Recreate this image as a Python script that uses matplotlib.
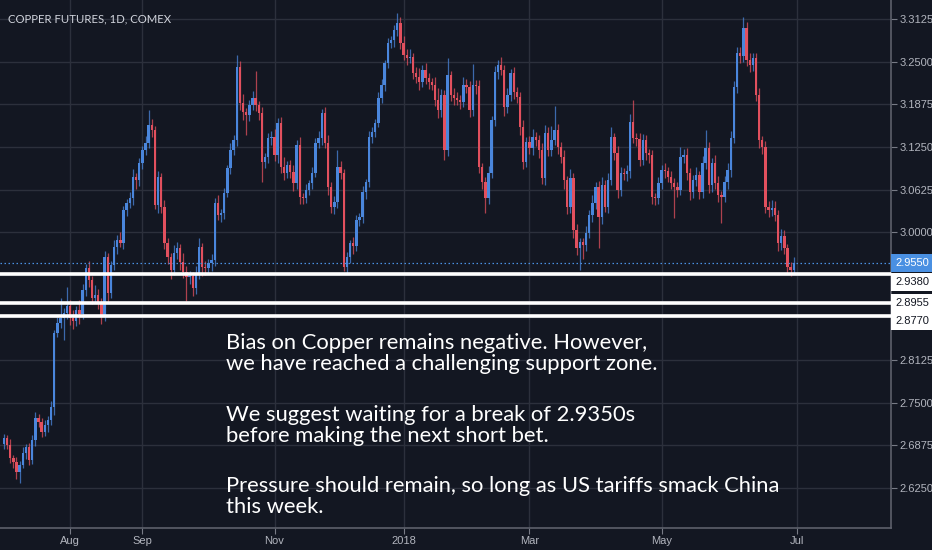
import numpy as np
import pandas as pd
import matplotlib
matplotlib.use('Agg')
import matplotlib.pyplot as plt
from matplotlib.patches import Rectangle
from matplotlib.transforms import IdentityTransform
from matplotlib.ticker import FixedLocator, FuncFormatter

# trading days shown (COMEX, daily bars)
holidays = ['2017-07-04', '2017-09-04', '2017-11-23', '2017-12-25', '2018-01-01',
            '2018-01-15', '2018-02-19', '2018-03-30', '2018-05-28']
dates = pd.bdate_range('2017-06-30', '2018-06-29', freq='C', holidays=holidays)

first_open = 2.690
closes = [
    # Jul 2017
    2.698, 2.688, 2.669, 2.663, 2.648, 2.659, 2.676, 2.685, 2.666, 2.695,
    2.727, 2.722, 2.707, 2.717, 2.724, 2.744, 2.852, 2.867, 2.874, 2.882, 2.892,
    # Aug 2017
    2.874, 2.870, 2.886, 2.880, 2.915, 2.947, 2.930, 2.903, 2.908, 2.898,
    2.878, 2.963, 2.911, 2.952, 2.978, 2.988, 2.984, 3.032, 3.043, 3.050,
    3.081, 3.076, 3.101,
    # Sep 2017
    3.120, 3.131, 3.157, 3.150, 3.040, 3.081, 3.037, 2.984, 2.963, 2.944,
    2.969, 2.977, 2.956, 2.941, 2.934, 2.936, 2.918, 2.940, 2.978, 2.949,
    # Oct 2017
    2.947, 2.955, 2.959, 3.043, 3.025, 3.028, 3.057, 3.094, 3.120, 3.135,
    3.242, 3.189, 3.176, 3.172, 3.186, 3.197, 3.186, 3.175, 3.103, 3.110,
    3.138, 3.139,
    # Nov 2017
    3.113, 3.160, 3.095, 3.087, 3.098, 3.088, 3.072, 3.128, 3.051, 3.050,
    3.062, 3.072, 3.087, 3.131, 3.138, 3.175, 3.131, 3.066, 3.037, 3.044,
    3.095,
    # Dec 2017
    3.087, 2.949, 2.963, 2.984, 2.980, 3.018, 3.022, 3.059, 3.073, 3.139,
    3.147, 3.160, 3.197, 3.216, 3.248, 3.277, 3.282, 3.296, 3.307, 3.277,
    # Jan 2018
    3.260, 3.255, 3.257, 3.233, 3.227, 3.220, 3.238, 3.226, 3.220, 3.216,
    3.194, 3.179, 3.201, 3.120, 3.230, 3.201, 3.197, 3.194, 3.191, 3.216,
    3.213,
    # Feb 2018
    3.179, 3.216, 3.214, 3.095, 3.073, 3.050, 3.087, 3.164, 3.235, 3.245,
    3.238, 3.183, 3.201, 3.233, 3.205, 3.198, 3.154, 3.103, 3.132,
    # Mar 2018
    3.123, 3.140, 3.135, 3.120, 3.079, 3.145, 3.120, 3.135, 3.150, 3.125,
    3.110, 3.076, 3.037, 3.079, 3.003, 2.977, 2.985, 2.981, 2.999, 3.025,
    3.043,
    # Apr 2018
    3.066, 3.022, 3.069, 3.037, 3.076, 3.139, 3.116, 3.062, 3.087, 3.085,
    3.089, 3.161, 3.138, 3.136, 3.106, 3.135, 3.116, 3.113, 3.051, 3.050,
    3.072,
    # May 2018
    3.091, 3.090, 3.081, 3.072, 3.066, 3.062, 3.110, 3.113, 3.087, 3.059,
    3.076, 3.084, 3.059, 3.101, 3.123, 3.069, 3.101, 3.072, 3.054, 3.052,
    3.073, 3.091,
    # Jun 2018
    3.138, 3.213, 3.263, 3.258, 3.299, 3.252, 3.245, 3.255, 3.201, 3.135,
    3.125, 3.037, 3.032, 3.035, 3.025, 2.984, 2.995, 2.977, 2.949, 2.944,
    2.955,
]

# wick lengths above / below the body, in thousandths
wick_hi = [
    6, 5, 8, 4, 7, 6, 9, 5, 6, 8, 10, 6, 5, 7, 6, 8, 5, 9, 30, 7, 28,
    8, 12, 6, 15, 9, 7, 10, 6, 14, 8, 5, 9, 7, 6, 10, 8, 12, 7, 5, 9, 11, 6, 8,
    7, 10, 22, 9, 6, 8, 5, 10, 7, 6, 12, 8, 6, 14, 9, 7, 5, 11, 13, 6,
    8, 6, 9, 7, 12, 6, 8, 5, 10, 7, 18, 9, 14, 6, 8, 10, 40, 7, 9, 6, 8, 10,
    12, 7, 9, 15, 6, 8, 10, 7, 11, 6, 8, 5, 9, 7, 10, 6, 8, 12, 7, 9, 25,
    10, 6, 8, 5, 9, 7, 6, 8, 5, 10, 7, 6, 8, 9, 5, 7, 6, 8, 15, 9,
    10, 8, 12, 6, 9, 14, 7, 10, 8, 6, 12, 18, 9, 7, 25, 6, 10, 8, 7, 11, 9,
    8, 30, 7, 9, 6, 8, 10, 7, 9, 8, 12, 7, 10, 6, 9, 8, 7, 10, 8,
    9, 11, 7, 8, 10, 12, 9, 20, 35, 8, 7, 10, 6, 14, 8, 9, 7, 6, 10, 8, 12,
    7, 9, 12, 8, 10, 15, 6, 10, 8, 7, 9, 12, 33, 8, 10, 9, 7, 6, 8, 7, 9,
    8, 10, 6, 9, 7, 8, 15, 9, 10, 7, 8, 12, 6, 10, 27, 9, 8, 12, 10, 7, 9, 11,
    10, 8, 9, 9, 16, 9, 10, 7, 8, 10, 6, 9, 8, 12, 11, 7, 9, 8, 6, 7, 8,
]
wick_lo = [
    8, 6, 7, 9, 10, 16, 5, 8, 7, 6, 9, 7, 8, 6, 10, 7, 12, 6, 8, 32, 9,
    10, 12, 8, 14, 7, 9, 11, 8, 6, 10, 12, 9, 15, 8, 7, 10, 6, 9, 8, 7, 10, 12, 8,
    9, 7, 8, 10, 6, 12, 9, 8, 10, 12, 7, 9, 11, 8, 35, 10, 12, 8, 9, 14,
    10, 8, 12, 9, 7, 10, 8, 6, 9, 7, 8, 10, 12, 30, 9, 7, 8, 10, 30, 9, 8, 10,
    9, 12, 8, 10, 7, 9, 11, 8, 10, 9, 7, 8, 9, 6, 8, 10, 7, 12, 9, 10, 8,
    9, 6, 10, 8, 12, 7, 9, 8, 10, 7, 9, 8, 6, 7, 9, 8, 7, 10, 8, 9,
    8, 10, 7, 9, 8, 11, 7, 9, 10, 8, 9, 12, 10, 14, 8, 9, 11, 8, 10, 7, 9,
    10, 8, 12, 9, 10, 22, 8, 7, 9, 10, 8, 12, 9, 8, 10, 9, 12, 10, 8,
    9, 10, 8, 12, 9, 10, 8, 9, 7, 10, 9, 12, 10, 9, 12, 10, 33, 20, 9, 8, 10,
    9, 45, 10, 8, 9, 7, 10, 12, 9, 8, 10, 9, 8, 10, 9, 8, 10, 12, 9, 10, 8,
    9, 10, 8, 9, 45, 10, 8, 9, 10, 12, 9, 8, 10, 9, 8, 12, 10, 9, 10, 38, 8, 9,
    10, 8, 9, 10, 8, 9, 10, 8, 9, 12, 10, 9, 10, 8, 9, 12, 10, 9, 10, 9, 6,
]

month_starts = ['2017-08-01', '2017-09-01', '2017-11-01', '2018-01-01',
                '2018-03-01', '2018-05-01', '2018-07-01']
month_labels = ['Aug', 'Sep', 'Nov', '2018', 'Mar', 'May', 'Jul']

support_levels = [2.938, 2.8955, 2.877]
support_labels = ['2.9380', '2.8955', '2.8770']
last_price = 2.955

note_lines = [
    'Bias on Copper remains negative. However,',
    'we have reached a challenging support zone.',
    'We suggest waiting for a break of 2.9350s',
    'before making the next short bet.',
    'Pressure should remain, so long as US tariffs smack China',
    'this week.',
]

bg = '#131722'
up_col = '#4a86dc'
dn_col = '#e2505e'
grid_col = '#2c303c'
axis_txt = '#b2b5be'
axfont = ['Liberation Sans', 'DejaVu Sans']
txtfont = ['Lato', 'DejaVu Sans']

c = np.array(closes)
o = np.r_[first_open, c[:-1]]
hi = np.maximum(o, c) + np.array(wick_hi) / 1000
lo = np.minimum(o, c) - np.array(wick_lo) / 1000
x = np.arange(len(c))
up = c >= o
cols = np.where(up, up_col, dn_col)

fig = plt.figure(figsize=(9.32, 5.5), dpi=100, facecolor=bg)
ax = fig.add_axes([0, 22 / 550, 891 / 932, 528 / 550], facecolor=bg)

ax.vlines(x, lo, hi, colors=cols, lw=0.9, alpha=0.75, zorder=2)
ax.bar(x, np.maximum(np.abs(c - o), 0.0012), bottom=np.minimum(o, c),
       width=0.75, color=cols, linewidth=0, zorder=3)

ax.set_xlim(-1.24, 281.9)
ax.set_ylim(2.5662, 3.3404)

# month ticks at first bar of each month
tick_pos = [dates.searchsorted(pd.Timestamp(d)) for d in month_starts]
ax.xaxis.set_major_locator(FixedLocator(tick_pos))
ax.set_xticklabels(month_labels, family=axfont, fontsize=8, color=axis_txt)

yt = np.arange(2.5625, 3.35, 0.0625)
hidden = [2.9375, 2.875]
ax.yaxis.set_major_locator(FixedLocator(yt))
ax.yaxis.set_major_formatter(FuncFormatter(
    lambda v, p: '' if min(abs(v - h) for h in hidden) < 1e-6 else f'{v:.4f}'))
ax.yaxis.tick_right()
for lab in ax.get_yticklabels():
    lab.set_family(axfont)
ax.tick_params(axis='y', colors='#787b86', labelcolor=axis_txt, labelsize=8,
               length=4, pad=2)
ax.tick_params(axis='x', colors='#787b86', labelcolor=axis_txt, length=4, pad=2)

ax.grid(True, color=grid_col, lw=1)
ax.set_axisbelow(True)
for s in ['top', 'left']:
    ax.spines[s].set_visible(False)
for s in ['right', 'bottom']:
    ax.spines[s].set_color('#5d606b')
    ax.spines[s].set_linewidth(1.2)

for v in support_levels:
    ax.axhline(v, color='white', lw=2.6, zorder=5)
ax.axhline(last_price, color='#4a90e2', lw=0.9, ls=(0, (1.2, 2)), zorder=4)

fig.canvas.draw()
ident = IdentityTransform()

def ypix(v):
    return ax.transData.transform((0, v))[1]

# price scale labels (pushed apart where they collide, as on the chart)
label_shift = [-8, 0, -5]
for v, s, d in zip(support_levels, support_labels, label_shift):
    yp = ypix(v) + d
    fig.add_artist(Rectangle((891, yp - 9), 41, 18, transform=ident,
                             facecolor='white', edgecolor='none', zorder=6))
    fig.text(895, yp, s, transform=ident, va='center', ha='left',
             fontsize=8, color='#131722', family=axfont, zorder=7)
yp = ypix(last_price)
fig.add_artist(Rectangle((891, yp - 9), 41, 18, transform=ident,
                         facecolor='#4a90e2', edgecolor='none', zorder=8))
fig.text(895, yp, f'{last_price:.4f}', transform=ident, va='center', ha='left',
         fontsize=8, color='white', family=axfont, zorder=9)

fig.text(8 / 932, 1 - 19 / 550, 'COPPER FUTURES, 1D, COMEX', va='center',
         ha='left', fontsize=8.2, color='#d1d4dc', family=txtfont)

baselines = [349, 370, 421, 442, 492, 513]
for line, yb in zip(note_lines, baselines):
    fig.text(226 / 932, 1 - yb / 550, line, va='baseline', ha='left',
             fontsize=15.8, color='white', family=txtfont, zorder=10)

fig.savefig('out.png', dpi=100, facecolor=bg)
